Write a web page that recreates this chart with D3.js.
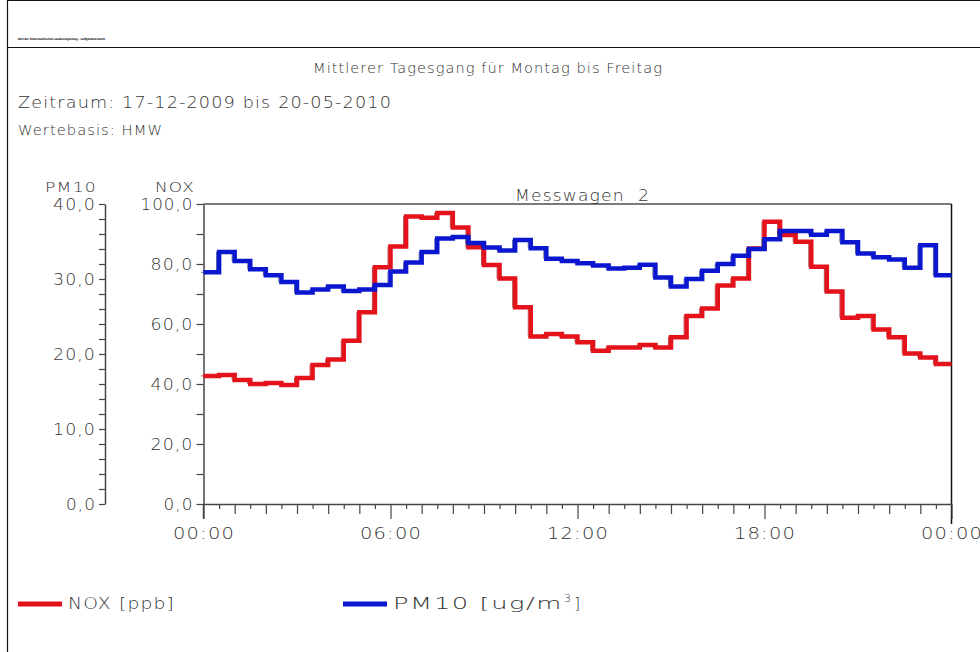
<!DOCTYPE html>
<html>
<head>
<meta charset="utf-8">
<script src="https://cdn.jsdelivr.net/npm/d3@7"></script>
<style>
  html, body { margin: 0; padding: 0; background: #fff; }
  svg { display: block; }
  text { font-family: "DejaVu Sans", "Liberation Sans", sans-serif; font-weight: 200; fill: #333; }
</style>
</head>
<body>
<svg id="chart" width="980" height="652"></svg>
<script>
// ---- data (half-hourly means, HMW) ----
const halfHours = d3.range(0, 24, 0.5);
const noxValues = [42.7, 43.0, 41.3, 40.0, 40.3, 39.7, 42.0, 46.3, 48.2, 54.4, 63.9, 78.9,
                   85.8, 95.8, 95.4, 97.0, 92.2, 85.6, 79.7, 75.2, 65.6, 55.8, 56.7, 55.8,
                   53.9, 51.1, 52.2, 52.2, 53.0, 52.2, 55.6, 62.7, 65.2, 72.8, 75.2, 85.2,
                   94.1, 89.7, 87.4, 79.1, 70.8, 62.1, 62.7, 58.2, 55.6, 50.2, 48.8, 46.7];
const pm10Values = [30.9, 33.6, 32.4, 31.3, 30.5, 29.6, 28.2, 28.6, 29.0, 28.4, 28.6, 29.2,
                    31.0, 32.2, 33.6, 35.4, 35.6, 34.8, 34.2, 33.8, 35.2, 34.1, 32.7, 32.4,
                    32.1, 31.8, 31.4, 31.5, 31.9, 30.2, 29.0, 30.0, 31.1, 32.0, 33.1, 34.0,
                    35.3, 36.4, 36.4, 35.9, 36.4, 34.9, 33.4, 32.9, 32.6, 31.5, 34.5, 30.5];
const xTickHours = [0, 6, 12, 18, 24];
const xTickLabels = ["00:00", "06:00", "12:00", "18:00", "00:00"];
const noxTicks = [0, 20, 40, 60, 80, 100];
const pm10Ticks = [0, 10, 20, 30, 40];
const titleText = "Mittlerer Tagesgang für Montag bis Freitag";
const periodText = "Zeitraum: 17-12-2009 bis 20-05-2010";
const basisText = "Wertebasis: HMW";
const stationText = "Messwagen  2";
const headerText = "Amt der Steiermärkischen Landesregierung – Luftgütemessnetz";
const noxColor = "#e3121b", pm10Color = "#0b17cf";

const svg = d3.select("#chart");
const fmt = v => v.toFixed(1).replace(".", ",");

function fit(sel, len) {
  sel.attr("textLength", len).attr("lengthAdjust", "spacingAndGlyphs");
}
function label(xp, yp, txt, size, len, anchor) {
  const t = svg.append("text").attr("x", xp).attr("y", yp).text(txt)
    .style("font-size", size + "px").style("letter-spacing", "1px").attr("text-anchor", anchor || "start");
  if (len) fit(t, len);
  return t;
}
const tickLen = s => s.length <= 3 ? 30 : (s.length === 4 ? 43 : 53);

// frame
svg.append("line").attr("x1", 7.5).attr("x2", 7.5).attr("y1", 0).attr("y2", 652).attr("stroke", "#111").attr("stroke-width", 1.2);
svg.append("line").attr("x1", 7).attr("x2", 980).attr("y1", 0.5).attr("y2", 0.5).attr("stroke", "#111").attr("stroke-width", 1);
svg.append("line").attr("x1", 7).attr("x2", 980).attr("y1", 47.5).attr("y2", 47.5).attr("stroke", "#111").attr("stroke-width", 1.2);
label(18, 40, headerText, 3, 87).style("font-weight", "bold").style("fill", "#000").style("letter-spacing", "0px");

// titles
label(313, 73, titleText, 14, 350);
label(18, 108, periodText, 15, 374);
label(18, 135, basisText, 14, 145);

// scales
const x = d3.scaleLinear().domain([0, 24]).range([203.5, 951.5]);
const yN = d3.scaleLinear().domain([0, 100]).range([504, 204]);
const yP = d3.scaleLinear().domain([0, 40]).range([504, 204]);

// plot frame top/right
svg.append("line").attr("x1", x(0)).attr("x2", x(24)).attr("y1", yN(100)).attr("y2", yN(100)).attr("stroke", "#7a7a7a").attr("stroke-width", 2);
svg.append("line").attr("x1", x(24)).attr("x2", x(24)).attr("y1", yN(100)).attr("y2", 524).attr("stroke", "#111").attr("stroke-width", 1.5);

// station label
label(515, 201, stationText, 15, 135).style("white-space", "pre");

function styleTickText(sel, size) {
  sel.style("font-size", size + "px").style("font-family", "DejaVu Sans")
     .style("font-weight", 200).style("letter-spacing", "1px").attr("fill", "#333");
}

// NOX axis
const gN = svg.append("g").attr("transform", `translate(${x(0)},0)`)
  .call(d3.axisLeft(yN).tickValues(d3.range(0, 101, 10)).tickSize(7).tickSizeOuter(0)
    .tickFormat(d => noxTicks.includes(d) ? fmt(d) : ""));
gN.select(".domain").attr("stroke", "#444").attr("stroke-width", 1.5);
gN.selectAll(".tick line").attr("stroke", "#444").attr("stroke-width", 1.2);
const nt = gN.selectAll(".tick text").attr("x", -10).attr("dy", "0.35em");
styleTickText(nt, 16);
nt.each(function(d) { if (noxTicks.includes(d)) fit(d3.select(this), tickLen(fmt(d))); });
svg.append("line").attr("x1", x(0)).attr("x2", x(0)).attr("y1", 504).attr("y2", 519).attr("stroke", "#444").attr("stroke-width", 1.5);

// PM10 axis
const gP = svg.append("g").attr("transform", "translate(105,0)")
  .call(d3.axisLeft(yP).tickValues(d3.range(0, 41, 2)).tickSize(6).tickSizeOuter(0)
    .tickFormat(d => pm10Ticks.includes(d) ? fmt(d) : ""));
gP.select(".domain").attr("stroke", "#444").attr("stroke-width", 1.5);
gP.selectAll(".tick line").attr("stroke", "#444").attr("stroke-width", 1.2);
const pt = gP.selectAll(".tick text").attr("x", -9).attr("dy", "0.35em");
styleTickText(pt, 16);
pt.each(function(d) { if (pm10Ticks.includes(d)) fit(d3.select(this), tickLen(fmt(d))); });

// axis header labels
label(45, 192, "PM10", 14, 52);
label(155, 192, "NOX", 14, 40);

// X axis
const gX = svg.append("g").attr("transform", `translate(0,${yN(0)})`)
  .call(d3.axisBottom(x).tickValues(d3.range(0, 24.01, 0.5)).tickSizeOuter(0)
    .tickFormat(d => { const i = xTickHours.indexOf(d); return i >= 0 ? xTickLabels[i] : ""; }));
gX.select(".domain").attr("stroke", "#444").attr("stroke-width", 1.5);
gX.selectAll(".tick line")
  .attr("stroke", "#444").attr("stroke-width", 1.2)
  .attr("y2", d => d % 6 === 0 ? 15 : (d % 1 === 0 ? 10 : 5));
const xt = gX.selectAll(".tick text").attr("y", 24);
styleTickText(xt, 16);
xt.each(function(d) { if (xTickHours.includes(d)) fit(d3.select(this), 62); });

// step series
function stepData(vals) {
  const pts = vals.map((v, i) => [halfHours[i], v]);
  pts.push([24, vals[vals.length - 1]]);
  return pts;
}
function drawSeries(vals, yScale, color, dark) {
  const lineMain = d3.line().x(d => x(d[0])).y(d => yScale(d[1])).curve(d3.curveStepAfter);
  const lineShadow = d3.line().x(d => x(d[0]) - 2.5).y(d => yScale(d[1])).curve(d3.curveStepAfter);
  svg.append("path").datum(stepData(vals)).attr("d", lineShadow)
    .attr("fill", "none").attr("stroke", dark).attr("stroke-width", 1).attr("opacity", 0.7);
  svg.append("path").datum(stepData(vals)).attr("d", lineMain)
    .attr("fill", "none").attr("stroke", color).attr("stroke-width", 4.5);
}
drawSeries(noxValues, yN, noxColor, "#8a1010");
drawSeries(pm10Values, yP, pm10Color, "#1a2a70");

// legend
svg.append("line").attr("x1", 18).attr("x2", 62).attr("y1", 604).attr("y2", 604).attr("stroke", noxColor).attr("stroke-width", 5);
label(68, 609, "NOX [ppb]", 16, 107);
svg.append("line").attr("x1", 343).attr("x2", 387).attr("y1", 604).attr("y2", 604).attr("stroke", pm10Color).attr("stroke-width", 5);
const lt = svg.append("text").attr("x", 393).attr("y", 609).style("font-size", "16px").style("letter-spacing", "1px");
const lt1 = lt.append("tspan").text("PM10 [ug/m");
fit(lt1, 170);
lt.append("tspan").attr("dy", -7).attr("dx", 1).style("font-size", "11px").text("3");
lt.append("tspan").attr("dy", 7).attr("dx", 2).text("]");
</script>
</body>
</html>
